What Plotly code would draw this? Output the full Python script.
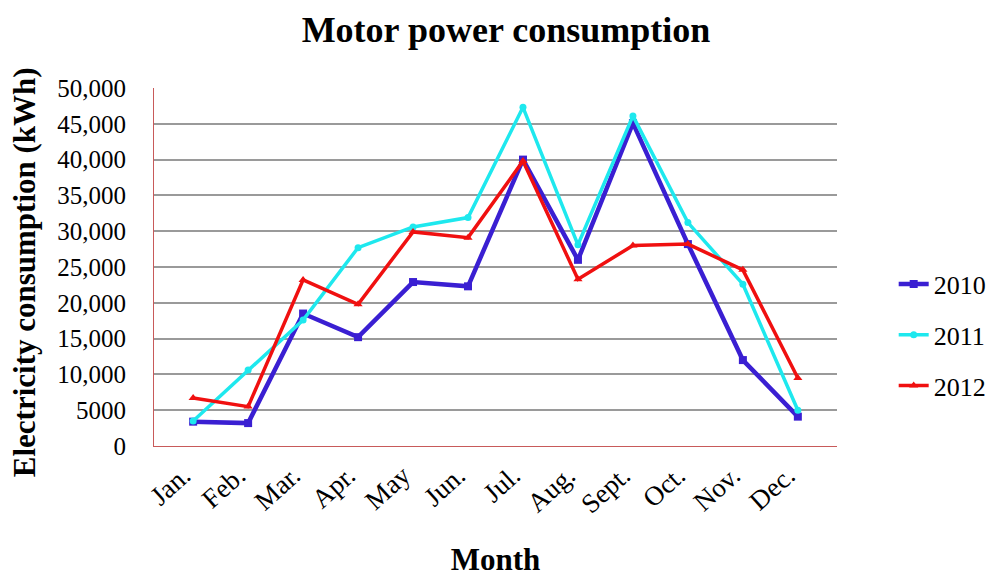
import plotly.graph_objects as go

months = ["Jan.", "Feb.", "Mar.", "Apr.", "May", "Jun.", "Jul.", "Aug.", "Sept.", "Oct.", "Nov.", "Dec."]
y2010 = [3400, 3200, 18500, 15200, 22900, 22300, 40000, 26000, 45100, 28200, 12000, 4100]
y2011 = [3500, 10600, 17600, 27700, 30600, 31900, 47300, 28100, 46100, 31200, 22600, 5000]
y2012 = [6700, 5500, 23200, 19800, 29900, 29100, 39800, 23300, 28000, 28200, 24600, 9500]
tick_vals = [0, 5000, 10000, 15000, 20000, 25000, 30000, 35000, 40000, 45000, 50000]
tick_text = ["0", "5000", "10,000", "15,000", "20,000", "25,000", "30,000", "35,000", "40,000", "45,000", "50,000"]

serif = "Liberation Serif, Times New Roman, serif"

fig = go.Figure()
fig.add_trace(go.Scatter(x=months, y=y2010, name="2010", mode="lines+markers",
                         line=dict(color="#3a1fd2", width=4.5),
                         marker=dict(symbol="square", size=8, color="#3a1fd2"),
                         legendgroup="a"))
fig.add_trace(go.Scatter(x=months, y=y2011, name="2011", mode="lines+markers",
                         line=dict(color="#1ee8ee", width=3.5),
                         marker=dict(symbol="circle", size=7, color="#1ee8ee"),
                         legendgroup="b"))
fig.add_trace(go.Scatter(x=months, y=y2012, name="2012", mode="lines+markers",
                         line=dict(color="#f01010", width=3.5),
                         marker=dict(symbol="triangle-up", size=8, color="#f01010"),
                         legendgroup="c"))

fig.update_layout(
    width=1006, height=576,
    margin=dict(l=146, r=177, t=80, b=138),
    paper_bgcolor="white", plot_bgcolor="white",
    font=dict(family=serif, color="black", size=25),
    title=dict(text="<b>Motor power consumption</b>", x=0.495, xanchor="center",
               y=0.962, yanchor="middle", font=dict(size=36, family=serif, color="black")),
    showlegend=True,
    legend=dict(x=1.083, y=0.31, xanchor="left", yanchor="middle",
                font=dict(size=26, family=serif, color="black"), tracegroupgap=14,
                bgcolor="rgba(0,0,0,0)"),
    annotations=[dict(text="<b>Electricity consumption (kWh)</b>", textangle=-90,
                      xref="paper", yref="paper", x=-0.19, y=0.486,
                      xanchor="center", yanchor="middle", showarrow=False,
                      borderpad=0,
                      font=dict(size=31, family=serif, color="black"))],
)
fig.update_xaxes(
    type="category", showgrid=False, showline=True, linecolor="#c85a5a", linewidth=1.2,
    tickangle=-42, ticks="", tickfont=dict(size=27, family=serif, color="black"),
    ticklabelstandoff=2, ticklabelshift=-10,
    title=dict(text="<b>Month</b>", font=dict(size=31, family=serif, color="black"), standoff=30),
)
fig.update_yaxes(
    range=[0, 50000], tickvals=tick_vals, ticktext=tick_text,
    showgrid=True, gridcolor="#9a9a9a", gridwidth=1.5,
    showline=True, linecolor="#c85a5a", linewidth=1.2, zeroline=False,
    ticks="", tickfont=dict(size=25, family=serif, color="black"), ticklabelstandoff=22,
)

fig.write_html("out.html")
